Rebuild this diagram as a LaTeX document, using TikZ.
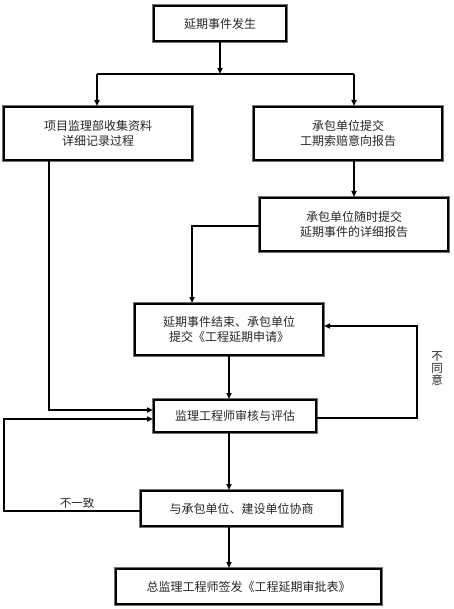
\documentclass[tikz,border=0pt]{standalone}
\usepackage{fontspec}
\newfontfamily\cjk{Noto Sans CJK SC}
\usetikzlibrary{arrows.meta,calc}
\begin{document}
\begin{tikzpicture}[x=1pt,y=-1pt,
  flowbox/.style={preaction={draw=black!55,line width=3.6pt},draw=black,line width=2pt,fill=white,
    inner sep=0pt,align=center,font=\cjk\fontsize{12}{15}\selectfont,text=black!85},
  conn/.style={line width=1.5pt,draw=black},
  arr/.style={conn,-{Triangle[length=6pt,width=5pt]}},
  lbl/.style={font=\cjk\fontsize{11.5}{12}\selectfont,text=black!85,inner sep=0pt}]
\useasboundingbox (0,0) rectangle (454,609);
\node[flowbox,minimum width=132pt,minimum height=35pt] (b1) at (220,23.5) {延期事件发生};
\node[flowbox,minimum width=188pt,minimum height=53pt] (b2) at (98,133.5) {项目监理部收集资料\\详细记录过程};
\node[flowbox,minimum width=188pt,minimum height=53pt] (b3) at (348,133.5) {承包单位提交\\工期索赔意向报告};
\node[flowbox,minimum width=188pt,minimum height=53pt] (b4) at (354,224.5) {承包单位随时提交\\延期事件的详细报告};
\node[flowbox,minimum width=188pt,minimum height=51pt] (b5) at (229,329.5) {延期事件结束、承包单位\\提交《工程延期申请》};
\node[flowbox,minimum width=162pt,minimum height=32pt] (b6) at (235,416) {监理工程师审核与评估};
\node[flowbox,minimum width=201pt,minimum height=35pt] (b7) at (241.5,508.5) {与承包单位、建设单位协商};
\node[flowbox,minimum width=265pt,minimum height=35pt] (b8) at (248.5,586.5) {总监理工程师签发《工程延期审批表》};
% branch
\coordinate (brL) at (97,74);
\coordinate (brR) at (354,74);
\draw[arr] (b1.south) -- (b1.south |- brL);
\draw[conn] (brL) -- (brR);
\draw[arr] (brL) -- (brL |- b2.north);
\draw[arr] (brR) -- (brR |- b3.north);
\draw[arr] (b3.south -| brR) -- (brR |- b4.north);
% b4 to b5
\coordinate (c45) at (192,226);
\draw[arr] (c45 -| b4.west) -- (c45) -- (c45 |- b5.north);
% b5 to b6, b6 to b7, b7 to b8
\coordinate (mid) at (229,0);
\draw[arr] (mid |- b5.south) -- (mid |- b6.north);
\draw[arr] (mid |- b6.south) -- (mid |- b7.north);
\draw[arr] (mid |- b7.south) -- (mid |- b8.north);
% left from b2
\coordinate (l2) at (49,410);
\draw[arr] (l2 |- b2.south) -- (l2) -- (l2 -| b6.west);
% right feedback
\coordinate (r1) at (417,418);
\coordinate (r2) at (417,326);
\draw[arr] (r1 -| b6.east) -- (r1) -- (r2) -- (r2 -| b5.east);
\node[lbl,align=center] (ndisagree) at (437,368) {不\\同\\意};
% bottom-left feedback
\coordinate (k1) at (4,511);
\coordinate (k2) at (4,419);
\draw[arr] (k1 -| b7.west) -- (k1) -- (k2) -- (k2 -| b6.west);
\node[lbl] (nincon) at (77,503) {不一致};
\end{tikzpicture}
\end{document}
